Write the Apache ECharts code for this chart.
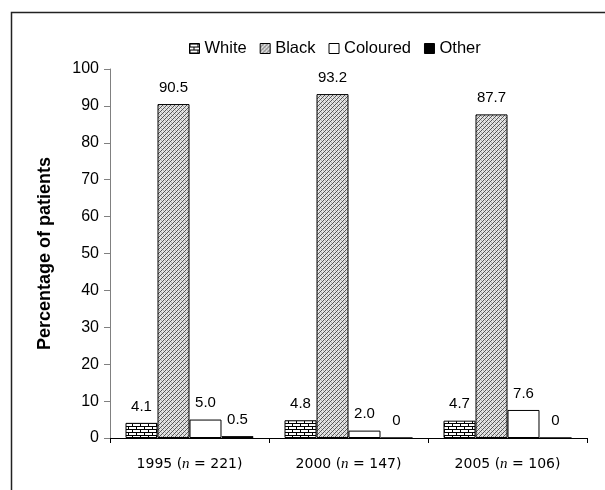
<!DOCTYPE html>
<html><head><meta charset="utf-8">
<script src="https://cdn.jsdelivr.net/npm/echarts@6/dist/echarts.min.js"></script>
<style>html,body{margin:0;padding:0;background:#fff}#c{width:605px;height:490px}</style>
</head><body><div id="c"></div>
<script>
var years = ['1995', '2000', '2005'];
var sampleN = ['221', '147', '106'];
var seriesNames = ['White', 'Black', 'Coloured', 'Other'];
var white = [4.1, 4.8, 4.7];
var black = [90.5, 93.2, 87.7];
var coloured = [5.0, 2.0, 7.6];
var other = [0.5, 0, 0];
var yTicks = [0, 10, 20, 30, 40, 50, 60, 70, 80, 90, 100];

function brick() {
  var c = document.createElement('canvas'); c.width = 8; c.height = 6;
  var g = c.getContext('2d');
  g.fillStyle = '#fff'; g.fillRect(0, 0, 8, 6);
  g.fillStyle = '#000';
  g.fillRect(0, 0, 8, 1); g.fillRect(0, 3, 8, 1);
  g.fillRect(0, 1, 1, 2); g.fillRect(4, 4, 1, 2);
  return c;
}
function diag() {
  var c = document.createElement('canvas'); c.width = 4; c.height = 4;
  var g = c.getContext('2d');
  g.fillStyle = '#e4e4e4'; g.fillRect(0, 0, 4, 4);
  g.fillStyle = '#555';
  for (var i = 0; i < 4; i++) { g.fillRect(3 - i, i, 1, 1); }
  g.fillStyle = '#b0b0b0';
  g.fillRect(1, 0, 1, 1); g.fillRect(3, 2, 1, 1);
  return c;
}
var fills = [
  { image: brick(), repeat: 'repeat' },
  { image: diag(), repeat: 'repeat' },
  '#ffffff',
  '#000000'
];
var values = [white, black, coloured, other];

var chart = echarts.init(document.getElementById('c'), null, { renderer: 'canvas' });
var series = seriesNames.map(function (nm, k) {
  return {
    name: nm, type: 'bar', data: values[k],
    barGap: '0%', barCategoryGap: '19.5%',
    itemStyle: { color: fills[k], borderColor: '#000', borderWidth: 1 },
    label: {
      show: true, position: 'top', distance: 9,
      fontFamily: 'Liberation Sans', fontSize: 15, color: '#000',
      formatter: function (p) { return p.value === 0 ? '0' : p.value.toFixed(1); }
    }
  };
});
chart.setOption({
  animation: false,
  backgroundColor: '#fff',
  graphic: [{
    type: 'rect', shape: { x: 11.5, y: 12.5, width: 700, height: 600 },
    style: { fill: 'none', stroke: '#222', lineWidth: 1.5 }, silent: true
  }],
  legend: {
    left: 184, top: 35, itemWidth: 10, itemHeight: 10, itemGap: 13,
    icon: 'rect',
    textStyle: { fontFamily: 'Liberation Sans', fontSize: 16.5, color: '#000' },
    data: seriesNames,
    itemStyle: { borderColor: '#000', borderWidth: 1 }
  },
  grid: { left: 110, right: 18, top: 69, bottom: 52 },
  xAxis: {
    type: 'category', data: years,
    axisLine: { lineStyle: { color: '#000', width: 1 } },
    axisTick: { show: true, length: 5, inside: false, lineStyle: { color: '#000' } },
    axisLabel: {
      interval: 0, margin: 19, color: '#000', fontFamily: 'DejaVu Sans', fontSize: 14,
      formatter: function (v, i) { return v + ' ({i|n} = ' + sampleN[i] + ')'; },
      rich: { i: { fontFamily: 'Liberation Serif', fontStyle: 'italic', fontSize: 15, color: '#000' } }
    }
  },
  yAxis: {
    type: 'value', min: yTicks[0], max: yTicks[yTicks.length - 1], interval: 10,
    name: 'Percentage of patients', nameLocation: 'middle', nameGap: 56,
    nameTextStyle: { fontFamily: 'Liberation Sans', fontSize: 18, fontWeight: 'bold', color: '#000' },
    axisLine: { show: true, lineStyle: { color: '#808080', width: 1 } },
    axisTick: { show: true, length: 6, lineStyle: { color: '#808080' } },
    axisLabel: { color: '#000', fontFamily: 'Liberation Sans', fontSize: 16, margin: 11 },
    splitLine: { show: false }
  },
  series: series
});
</script></body></html>
